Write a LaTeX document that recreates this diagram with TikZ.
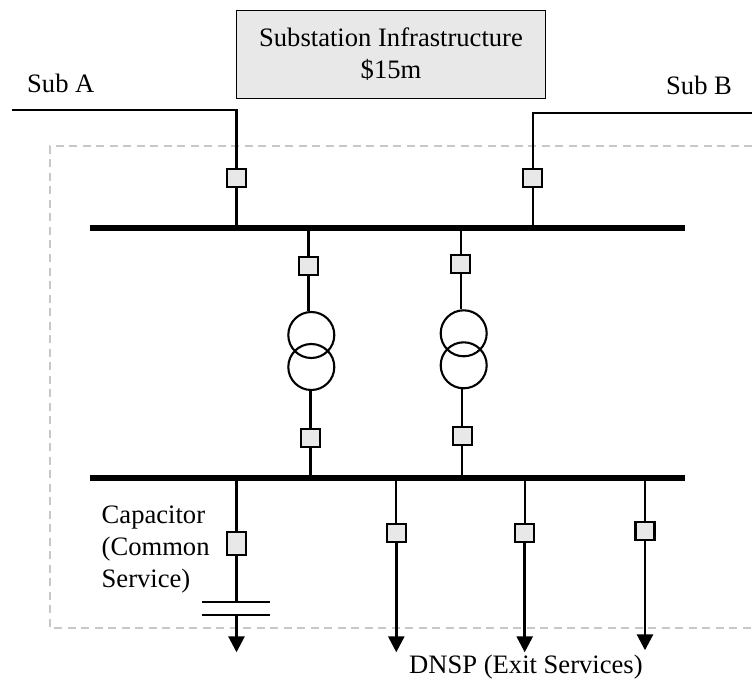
\documentclass[tikz,border=0pt]{standalone}
\usepackage{fontspec}
\setmainfont{Liberation Serif}
\usetikzlibrary{arrows.meta}
\definecolor{boxgray}{HTML}{E8E8E8}
\definecolor{dashgray}{HTML}{C8C8C8}
\tikzset{
  breaker/.style={draw=black, fill=boxgray, line width=2.5pt, rectangle, inner sep=0pt, minimum width=19pt, minimum height=18pt},
  tallbreaker/.style={breaker, minimum height=23pt},
  busbar/.style={fill=black, rectangle, inner sep=0pt, minimum width=595pt, minimum height=6pt},
  plate/.style={fill=black, rectangle, inner sep=0pt, minimum width=68pt, minimum height=2.2pt},
  winding/.style={draw=black, circle, line width=2.1pt, inner sep=0pt, minimum size=46pt},
  wire/.style={line width=2.1pt, black},
  feeder/.style={line width=2.8pt, black, -{Triangle[width=16pt,length=16pt]}},
  boundary/.style={line width=1.9pt, dashgray, dash pattern=on 8pt off 5.5pt},
  lbl/.style={font=\fontsize{26.6}{32}\selectfont, inner sep=0pt}
}
\begin{document}
\begin{tikzpicture}[x=1pt,y=-1pt]
\useasboundingbox (0,0) rectangle (752,679);
\draw[boundary] (752,146) -- (50,146) -- (50,628) -- (752,628);
\node[draw=black, fill=boxgray, line width=1.9pt, minimum width=309pt, minimum height=88pt, inner sep=0pt, lbl, align=center] (infra) at (391,54.5) {Substation Infrastructure\\\$15m};
\node[lbl, anchor=base west] (subAlabel) at (27,93) {Sub A};
\node[lbl, anchor=base west] (subBlabel) at (666,95) {Sub B};
\node[lbl, anchor=base west] (caplabel) at (101.5,523) {Capacitor};
\node[lbl, anchor=base west] (caplabelb) at (101.5,555) {(Common};
\node[lbl, anchor=base west] (caplabelc) at (101.5,587) {Service)};
\node[lbl, anchor=base west] (dnsplabel) at (409,673.5) {DNSP (Exit Services)};
\node[busbar] (busone) at (387.5,228) {};
\node[busbar] (bustwo) at (387.5,478) {};
\coordinate (subAend) at (12,110);
\coordinate (subBend) at (752,112.7);
\node[breaker] (brkA) at (236.5,178) {};
\node[breaker] (brkB) at (532.7,178) {};
\node[breaker] (brkC) at (308.5,266) {};
\node[breaker] (brkD) at (460.7,264) {};
\node[winding] (tfCup) at (311.3,335) {};
\node[winding] (tfClow) at (311.3,367) {};
\node[winding] (tfDup) at (463.7,333.3) {};
\node[winding] (tfDlow) at (463.7,365.3) {};
\node[breaker] (brkE) at (310.5,438) {};
\node[breaker] (brkF) at (462.3,436) {};
\node[tallbreaker] (brkCap) at (236.5,543.3) {};
\node[breaker] (brkG) at (396.3,533) {};
\node[breaker] (brkH) at (524.7,533) {};
\node[breaker] (brkI) at (645,531) {};
\node[plate] (capTop) at (235.7,602.3) {};
\node[plate] (capBot) at (235.7,615) {};
\coordinate (capEnd) at (236.5,652.3);
\coordinate (endG) at (396.3,652.3);
\coordinate (endH) at (524.7,652.3);
\coordinate (endI) at (645,650.3);
\draw[wire] (subAend) -| (brkA);
\draw[wire] (subBend) -| (brkB);
\draw[wire] (brkA) -- (brkA |- busone);
\draw[wire] (brkB) -- (brkB |- busone);
\draw[wire] (brkC |- busone) -- (brkC);
\draw[wire] (brkD |- busone) -- (brkD);
\draw[wire] (brkC) -- (brkC |- tfCup.north);
\draw[wire] (brkD) -- (brkD |- tfDup.north);
\draw[wire] (brkE |- tfClow.south) -- (brkE);
\draw[wire] (brkF |- tfDlow.south) -- (brkF);
\draw[wire] (brkE) -- (brkE |- bustwo);
\draw[wire] (brkF) -- (brkF |- bustwo);
\draw[wire] (brkCap |- bustwo) -- (brkCap);
\draw[wire] (brkCap) -- (brkCap |- capTop);
\draw[wire] (brkG |- bustwo) -- (brkG);
\draw[wire] (brkH |- bustwo) -- (brkH);
\draw[wire] (brkI |- bustwo) -- (brkI);
\draw[feeder] (brkCap |- capBot) -- (capEnd);
\draw[feeder] (brkG) -- (endG);
\draw[feeder] (brkH) -- (endH);
\draw[feeder] (brkI) -- (endI);
\end{tikzpicture}
\end{document}
